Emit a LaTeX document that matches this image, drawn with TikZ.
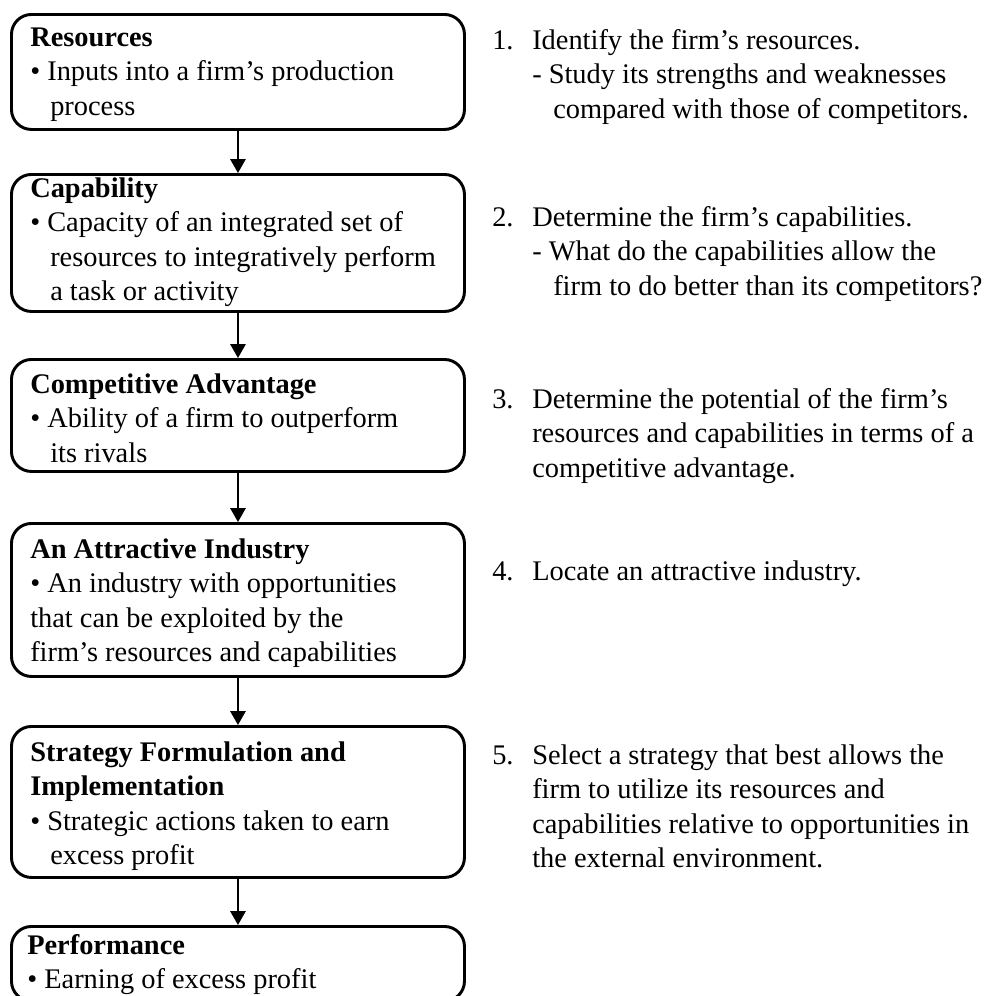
\documentclass[tikz,border=0pt]{standalone}
\usepackage{fontspec}
\setmainfont{Liberation Serif}
\usetikzlibrary{arrows.meta}

% one block of text lines, baseline at the first line
\newcommand{\lineblock}[1]{\vtop{#1}}
\newcommand{\ind}{\hspace*{15pt}}

\begin{document}
\begin{tikzpicture}[x=0.75pt,y=-0.75pt,
  stage/.style={draw=black,line width=2.2pt,rounded corners=15pt,
    minimum width=339.75pt,anchor=north west,inner sep=0pt},
  txt/.style={anchor=base west,inner sep=0pt,
    font=\fontsize{21.3}{25.9}\selectfont},
  flow/.style={line width=1.6pt,-{Triangle[width=11.5pt,length=10.5pt]}}]
\useasboundingbox (0,0) rectangle (985,996);
\clip (0,0) rectangle (985,996);

% stage boxes
\node[stage,minimum height=86.25pt]  (b1) at (10,13)  {};
\node[stage,minimum height=102.75pt] (b2) at (10,173) {};
\node[stage,minimum height=84pt]     (b3) at (10,358) {};
\node[stage,minimum height=114.75pt] (b4) at (10,522) {};
\node[stage,minimum height=113.25pt] (b5) at (10,725) {};
\node[stage,minimum height=56pt]     (b6) at (10,925) {};

% box texts
\node[txt] (t1) at (30,46) {\lineblock{%
  \hbox{\bfseries Resources}
  \hbox{• Inputs into a firm’s production}
  \hbox{\ind process}}};
\node[txt] (t2) at (30,197) {\lineblock{%
  \hbox{\bfseries Capability}
  \hbox{• Capacity of an integrated set of}
  \hbox{\ind resources to integratively perform}
  \hbox{\ind a task or activity}}};
\node[txt] (t3) at (30,393) {\lineblock{%
  \hbox{\bfseries Competitive Advantage}
  \hbox{• Ability of a firm to outperform}
  \hbox{\ind its rivals}}};
\node[txt] (t4) at (30,558) {\lineblock{%
  \hbox{\bfseries An Attractive Industry}
  \hbox{• An industry with opportunities}
  \hbox{that can be exploited by the}
  \hbox{firm’s resources and capabilities}}};
\node[txt] (t5) at (30,761) {\lineblock{%
  \hbox{\bfseries Strategy Formulation and}
  \hbox{\bfseries Implementation}
  \hbox{• Strategic actions taken to earn}
  \hbox{\ind excess profit}}};
\node[txt] (t6) at (27,954) {\lineblock{%
  \hbox{\bfseries Performance}
  \hbox{• Earning of excess profit}}};

% connectors
\draw[flow] (b1.south) -- (b2.north);
\draw[flow] (b2.south) -- (b3.north);
\draw[flow] (b3.south) -- (b4.north);
\draw[flow] (b4.south) -- (b5.north);
\draw[flow] (b5.south) -- (b6.north);

% numbered steps
\node[txt] (n1) at (492,49) {\lineblock{%
  \hbox{\makebox[30pt][l]{1.}Identify the firm’s resources.}
  \hbox{\hspace*{30pt}- Study its strengths and weaknesses}
  \hbox{\hspace*{45.75pt}compared with those of competitors.}}};
\node[txt] (n2) at (492,226) {\lineblock{%
  \hbox{\makebox[30pt][l]{2.}Determine the firm’s capabilities.}
  \hbox{\hspace*{30pt}- What do the capabilities allow the}
  \hbox{\hspace*{45.75pt}firm to do better than its competitors?}}};
\node[txt] (n3) at (492,408) {\lineblock{%
  \hbox{\makebox[30pt][l]{3.}Determine the potential of the firm’s}
  \hbox{\hspace*{30pt}resources and capabilities in terms of a}
  \hbox{\hspace*{30pt}competitive advantage.}}};
\node[txt] (n4) at (492,580) {\lineblock{%
  \hbox{\makebox[30pt][l]{4.}Locate an attractive industry.}}};
\node[txt] (n5) at (492,764) {\lineblock{%
  \hbox{\makebox[30pt][l]{5.}Select a strategy that best allows the}
  \hbox{\hspace*{30pt}firm to utilize its resources and}
  \hbox{\hspace*{30pt}capabilities relative to opportunities in}
  \hbox{\hspace*{30pt}the external environment.}}};
\end{tikzpicture}
\end{document}
